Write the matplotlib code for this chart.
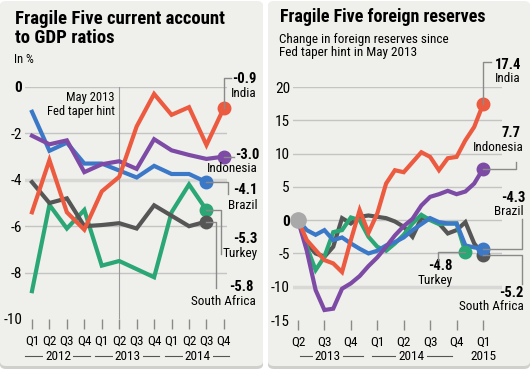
import numpy as np
import matplotlib
matplotlib.use('Agg')
import matplotlib.pyplot as plt
from matplotlib.patches import FancyBboxPatch
from matplotlib.lines import Line2D
from matplotlib import transforms

W, H = 530, 371
nan = np.nan

# ---- left chart: current account to GDP ratio (%), Q1 2012 .. Q4 2014
ca_quarters = ['Q1', 'Q2', 'Q3', 'Q4'] * 3
ca_years = ['2012', '2013', '2014']
ca_india = [-5.4, -3.15, -5.4, -6.15, -4.5, -3.87, -1.7, -0.3, -1.2, -0.87, -2.5, -0.9]
ca_indonesia = [-2.1, -2.47, -2.3, -3.67, -3.33, -3.2, -3.53, -2.25, -2.73, -2.93, -3.1, -3.0]
ca_brazil = [-1.07, -2.75, -2.4, -3.3, -3.3, -3.6, -3.9, -3.4, -3.75, -3.75, -4.1, nan]
ca_turkey = [-8.8, -5.08, -6.1, -5.3, -7.7, -7.5, -7.85, -8.2, -5.4, -4.2, -5.3, nan]
ca_safrica = [-4.1, -5.0, -4.8, -6.0, -5.95, -5.87, -6.1, -5.1, -5.55, -6.0, -5.8, nan]
ca_yticks = [0, -2, -4, -6, -8, -10]

# ---- right chart: change in foreign reserves since May 2013, monthly
fx_qlabels = ['Q2', 'Q3', 'Q4', 'Q1', 'Q2', 'Q3', 'Q4', 'Q1']
fx_india = [0, -3, -4.5, -6, -6.5, -7.8, -3, 1.5, -1.9, 1, 5.5, 7.5, 7.2, 8.7, 10.2, 9.5,
            7.5, 9.3, 9.5, 12, 14, 17.4]
fx_indonesia = [0, -4.6, -10.5, -13.5, -13.3, -10.3, -9.5, -8.4, -6.9, -5.6, -4.0, -2.3,
                -0.9, 0.2, 2.2, 3.5, 3.9, 4.4, 3.9, 4.3, 5.5, 7.7]
fx_brazil = [0, -1.5, -2.2, -1.5, -3.0, -2.6, -3.5, -4.3, -5.0, -4.6, -3.8, -3.3, -2.6,
             -1.5, -0.6, 0.3, -0.3, -0.5, -0.5, -3.8, -4.1, -4.3]
fx_turkey = [0, -4.0, -7.5, -5.5, -1.8, -1.5, 0.4, 0.0, -2.5, -4.0, -4.6, -3.5, -2.2,
             -0.5, 0.8, 0.0, -0.6, -0.5, -0.5, -4.8, nan, nan]
fx_safrica = [0, -3.5, -5.0, -5.5, -4.0, 0.3, -0.5, 0.5, 0.7, 0.5, 0.3, -0.2, -1.0,
              -2.5, 0.3, 0.2, -0.5, -2.0, -1.5, -0.3, -3.5, -5.2]
fx_yticks = [20, 15, 10, 5, 0, -5, -10, -15]

C_IN = '#ec5a40'
C_ID = '#7d4aa5'
C_BR = '#3b78c8'
C_TR = '#2ba675'
C_ZA = '#565656'
BG = '#efefeb'
GRID = '#c4c4c4'
VAL_FS = 10.5
NAME_FS = 9.5
plt.rcParams['font.family'] = ['Roboto Condensed', 'DejaVu Sans']

fig = plt.figure(figsize=(W / 100, H / 100), dpi=100)
fig.patch.set_facecolor('white')

# panels
for x0, x1 in [(0, 263), (268, 530)]:
    sh = FancyBboxPatch((x0 / W, 1 - 369 / H), (x1 - x0) / W, 367 / H,
                        boxstyle='round,pad=0,rounding_size=0.012',
                        transform=fig.transFigure, fc='#cfcfcb', ec='none', zorder=-3)
    fig.add_artist(sh)
    p = FancyBboxPatch((x0 / W, 1 - 366 / H), (x1 - x0) / W, 365 / H,
                       boxstyle='round,pad=0,rounding_size=0.012',
                       transform=fig.transFigure, fc=BG, ec='none', zorder=-2)
    fig.add_artist(p)


def ftext(x, y, s, **kw):
    fig.text(x / W, 1 - y / H, s, **kw)


def leader(ax, x, y, offs):
    p0 = ax.transData.transform((x, y))
    xs = [p0[0] + dx for dx, dy in offs]
    ys = [p0[1] - dy for dx, dy in offs]
    fig.add_artist(Line2D(xs, ys, transform=transforms.IdentityTransform(),
                          color='#8a8a8a', lw=1, zorder=4))


def style_axes(ax, yticks, grid_vals, light_val):
    ax.set_facecolor('none')
    for s in ax.spines.values():
        s.set_visible(False)
    for v in grid_vals:
        if v == light_val:
            ax.axhline(v, color='#d8d8d6', lw=2.5, zorder=0)
        else:
            ax.axhline(v, color=GRID, lw=1, zorder=0)
    ax.set_yticks(yticks)
    ax.set_yticklabels([str(v) for v in yticks], fontsize=11)
    ax.tick_params(axis='y', length=0, pad=2)
    ax.tick_params(axis='x', length=7, width=1, color='#8a8a8a', direction='out',
                   pad=4, labelsize=9.5)
    for lab, v in zip(ax.get_yticklabels(), yticks):
        if v == 0:
            lab.set_fontweight('bold')


def year_label(ax, x0, x1, xt, s):
    tr = transforms.blended_transform_factory(ax.transData, fig.transFigure)
    yy = 1 - 356 / H
    if x1 is not None:
        ax.plot([x0, x1], [yy, yy], transform=tr, color='#555555', lw=0.8, clip_on=False)
    ax.text(xt, yy, s, transform=tr, ha='center', va='center', fontsize=9.5,
            bbox=dict(fc=BG, ec='none', pad=1.5))


# ================= left chart
axL = fig.add_axes([25 / W, 1 - 319 / H, 202.4 / W, 232 / H])
xq = np.arange(len(ca_quarters))
axL.set_xlim(-0.4, 11.2)
axL.set_ylim(-10, 0)
style_axes(axL, ca_yticks, [0, -2, -4, -6, -8], -4)
axL.set_xticks(xq)
axL.set_xticklabels(ca_quarters)
axL.axvline(5, color='#9a9a9a', lw=0.8, zorder=0)

series_L = [(ca_turkey, C_TR), (ca_safrica, C_ZA), (ca_brazil, C_BR),
            (ca_indonesia, C_ID), (ca_india, C_IN)]
for vals, c in series_L:
    v = np.array(vals, float)
    axL.plot(xq, v, color=c, lw=3, solid_joinstyle='miter', zorder=3, clip_on=False)
    last = np.where(~np.isnan(v))[0][-1]
    axL.plot(xq[last], v[last], 'o', ms=9, color=c, zorder=5, clip_on=False)

leader(axL, 11, ca_india[11], [(0, 0), (0, -30), (7, -30)])
leader(axL, 11, ca_indonesia[11], [(0, 0), (10, 0)])
leader(axL, 10, ca_brazil[10], [(0, 0), (22, 0), (22, 12)])
leader(axL, 10, ca_turkey[10], [(0, 0), (15, 0), (15, 44)])
leader(axL, 10, ca_safrica[10], [(0, 0), (10, 0), (10, 66)])

for i, yr in enumerate(ca_years):
    year_label(axL, 4 * i - 0.4, 4 * i + 3.3, 4 * i + 1.5, yr)

ftext(15, 24, 'Fragile Five current account', fontsize=13.5, fontweight='bold')
ftext(15, 43, 'to GDP ratios', fontsize=13.5, fontweight='bold')
ftext(14, 63, 'In %', fontsize=9)
ftext(115, 101, 'May 2013', fontsize=9, ha='right')
ftext(115, 115, 'Fed taper hint', fontsize=9, ha='right')

ftext(232, 83, '%.1f' % ca_india[11], fontsize=VAL_FS, fontweight='bold')
ftext(256, 97, 'India', fontsize=NAME_FS, ha='right')
ftext(235, 159, '%.1f' % ca_indonesia[11], fontsize=VAL_FS, fontweight='bold')
ftext(258, 172, 'Indonesia', fontsize=NAME_FS, ha='right')
ftext(257, 194, '%.1f' % ca_brazil[10], fontsize=VAL_FS, fontweight='bold', ha='right')
ftext(258, 209, 'Brazil', fontsize=NAME_FS, ha='right')
ftext(257, 243, '%.1f' % ca_turkey[10], fontsize=VAL_FS, fontweight='bold', ha='right')
ftext(258, 257, 'Turkey', fontsize=NAME_FS, ha='right')
ftext(254, 291, '%.1f' % ca_safrica[10], fontsize=VAL_FS, fontweight='bold', ha='right')
ftext(256, 305, 'South Africa', fontsize=NAME_FS, ha='right')

# ================= right chart
axR = fig.add_axes([292.7 / W, 1 - 320 / H, 209.7 / W, 233 / H])
xm = np.arange(len(fx_india))
axR.set_xlim(-0.6, 23.2)
axR.set_ylim(-15, 20)
style_axes(axR, fx_yticks, [20, 15, 10, 5, 0, -5, -10], -10)
axR.set_xticks(np.arange(0, 22, 3))
axR.set_xticklabels(fx_qlabels)

series_R = [(fx_safrica, C_ZA), (fx_turkey, C_TR), (fx_brazil, C_BR),
            (fx_indonesia, C_ID), (fx_india, C_IN)]
for vals, c in series_R:
    v = np.array(vals, float)
    axR.plot(xm, v, color=c, lw=3, solid_joinstyle='miter', zorder=3)
    last = np.where(~np.isnan(v))[0][-1]
    axR.plot(xm[last], v[last], 'o', ms=9, color=c, zorder=5, clip_on=False)
axR.plot(0, 0, 'o', ms=11, color='#a9a9a9', zorder=6, clip_on=False)

leader(axR, 21, fx_india[21], [(0, 0), (0, -42), (8, -42)])
leader(axR, 21, fx_indonesia[21], [(0, 0), (33, 0), (33, -7)])
leader(axR, 21, fx_brazil[21], [(0, 0), (39, 0), (39, -30)])
leader(axR, 19, fx_turkey[19], [(0, 0), (-27, 0), (-27, 8)])
leader(axR, 21, fx_safrica[21], [(0, 0), (39, 0), (39, 29)])

year_label(axR, 0.2, 7.4, 3.4, '2013')
year_label(axR, 8.4, 17.5, 12.9, '2014')
year_label(axR, 0, None, 21, '2015')

ftext(280, 22, 'Fragile Five foreign reserves', fontsize=13, fontweight='bold')
ftext(279, 43, 'Change in foreign reserves since', fontsize=9.5)
ftext(279, 56, 'Fed taper hint in May 2013', fontsize=9.5)

ftext(521, 69, '%.1f' % fx_india[21], fontsize=VAL_FS, fontweight='bold', ha='right')
ftext(521, 82, 'India', fontsize=NAME_FS, ha='right')
ftext(521, 137, '%.1f' % fx_indonesia[21], fontsize=VAL_FS, fontweight='bold', ha='right')
ftext(524, 151, 'Indonesia', fontsize=NAME_FS, ha='right')
ftext(525, 202, '%.1f' % fx_brazil[21], fontsize=VAL_FS, fontweight='bold', ha='right')
ftext(524, 215, 'Brazil', fontsize=NAME_FS, ha='right')
ftext(453, 270, '%.1f' % fx_turkey[19], fontsize=VAL_FS, fontweight='bold', ha='right')
ftext(453, 284, 'Turkey', fontsize=NAME_FS, ha='right')
ftext(524, 297, '%.1f' % fx_safrica[21], fontsize=VAL_FS, fontweight='bold', ha='right')
ftext(524, 310, 'South Africa', fontsize=NAME_FS, ha='right')

fig.savefig('out.png', dpi=100, facecolor=fig.get_facecolor())
